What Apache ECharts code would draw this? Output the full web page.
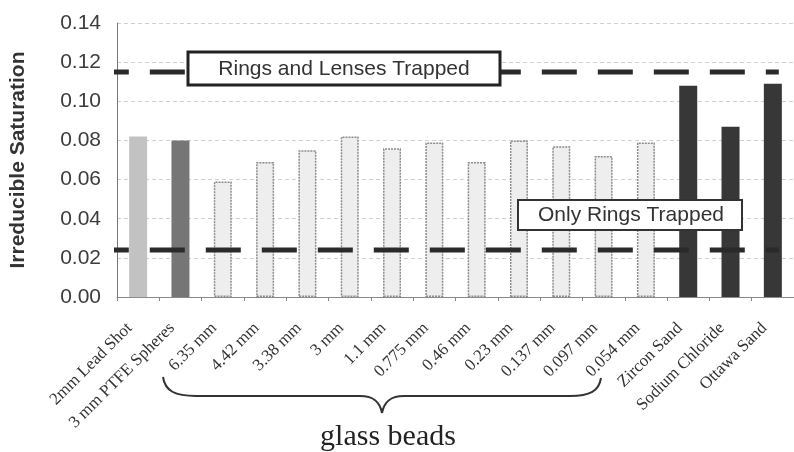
<!DOCTYPE html>
<html>
<head>
<meta charset="utf-8">
<title>Irreducible Saturation</title>
<script src="https://cdn.jsdelivr.net/npm/echarts@6/dist/echarts.min.js"></script>
<style>
  html, body { margin: 0; padding: 0; background: #ffffff; }
  #chart { width: 794px; height: 452px; }
</style>
</head>
<body>
<div id="chart"></div>
<script>
// Porous media tested, in plotting order
const categories = [
  '2mm Lead Shot', '3 mm PTFE Spheres',
  '6.35 mm', '4.42 mm', '3.38 mm', '3 mm', '1.1 mm', '0.775 mm',
  '0.46 mm', '0.23 mm', '0.137 mm', '0.097 mm', '0.054 mm',
  'Zircon Sand', 'Sodium Chloride', 'Ottawa Sand'
];

// Measured irreducible saturation for each medium
const saturation = [
  0.082, 0.080,
  0.059, 0.069, 0.075, 0.082, 0.076, 0.079,
  0.069, 0.080, 0.077, 0.072, 0.079,
  0.108, 0.087, 0.109
];

// Material kind of each medium (selects the bar fill)
const materialKind = [
  'lead', 'ptfe',
  'glass', 'glass', 'glass', 'glass', 'glass', 'glass',
  'glass', 'glass', 'glass', 'glass', 'glass',
  'grain', 'grain', 'grain'
];

// Trapping thresholds
const ringsAndLensesLevel = 0.115;
const ringsOnlyLevel = 0.024;

const yTickStep = 0.02;
const yMax = 0.14;

// Bar fills by material kind
const kindStyle = {
  lead:  { color: '#c2c2c2' },
  ptfe:  { color: '#767676' },
  glass: { color: '#eeeeee', borderColor: '#8c8c8c', borderWidth: 1.5, borderType: [2, 1] },
  grain: { color: '#373737' }
};

const bars = saturation.map((v, i) => ({ value: v, itemStyle: kindStyle[materialKind[i]] }));

// Threshold lines run on a hidden value axis measured in category widths
const lineSpan = [-0.17, 15.64];
const thresholdLine = (level) => ({
  type: 'line',
  xAxisIndex: 1,
  yAxisIndex: 0,
  data: [[lineSpan[0], level], [lineSpan[1], level]],
  symbol: 'none',
  clip: false,
  silent: true,
  z: 5,
  lineStyle: { color: '#2a2a2a', width: 5, type: [35, 21], dashOffset: 16, cap: 'butt' }
});

// Curly brace under the glass bead sizes
const braceStyle = { fill: 'none', stroke: '#333333', lineWidth: 2 };
const braceParts = [
  { type: 'bezierCurve', shape: { x1: 163, y1: 377, cpx1: 165, cpy1: 391, cpx2: 175, cpy2: 396, x2: 196, y2: 396 } },
  { type: 'line', shape: { x1: 196, y1: 396, x2: 360, y2: 396 } },
  { type: 'bezierCurve', shape: { x1: 360, y1: 396, cpx1: 374, cpy1: 396, cpx2: 380, cpy2: 402, x2: 382, y2: 413 } },
  { type: 'bezierCurve', shape: { x1: 382, y1: 413, cpx1: 384, cpy1: 402, cpx2: 390, cpy2: 396, x2: 404, y2: 396 } },
  { type: 'line', shape: { x1: 404, y1: 396, x2: 570, y2: 396 } },
  { type: 'bezierCurve', shape: { x1: 570, y1: 396, cpx1: 590, cpy1: 396, cpx2: 599, cpy2: 391, x2: 601, y2: 378 } }
].map((p) => Object.assign(p, { z: 100, style: braceStyle }));

// Annotation boxes for the two trapping regimes
const annotations = [
  {
    type: 'rect', z: 100,
    shape: { x: 188, y: 52, width: 312, height: 33 },
    style: { fill: '#ffffff', stroke: '#222222', lineWidth: 3 }
  },
  {
    type: 'text', z: 101,
    x: 344, y: 69,
    style: {
      text: 'Rings and Lenses Trapped',
      fontFamily: 'Liberation Sans', fontSize: 21, fill: '#333333',
      textAlign: 'center', textVerticalAlign: 'middle'
    }
  },
  {
    type: 'rect', z: 100,
    shape: { x: 518, y: 200, width: 224, height: 30 },
    style: { fill: '#ffffff', stroke: '#333333', lineWidth: 2 }
  },
  {
    type: 'text', z: 101,
    x: 631, y: 215,
    style: {
      text: 'Only Rings Trapped',
      fontFamily: 'Liberation Sans', fontSize: 21, fill: '#333333',
      textAlign: 'center', textVerticalAlign: 'middle'
    }
  },
  {
    type: 'text', z: 101,
    x: 388, y: 437,
    style: {
      text: 'glass beads',
      fontFamily: 'Liberation Serif', fontSize: 30, fill: '#222222',
      textAlign: 'center', textVerticalAlign: 'middle'
    }
  }
];

const chart = echarts.init(document.getElementById('chart'), null, { renderer: 'canvas' });

chart.setOption({
  animation: false,
  backgroundColor: '#ffffff',
  grid: { left: 115, right: -6, top: 23, bottom: 155, containLabel: false },
  xAxis: [
    {
      type: 'category',
      data: categories,
      boundaryGap: true,
      axisLine: { show: true, lineStyle: { color: '#8a8a8a', width: 1 } },
      axisTick: { show: true, length: 4, lineStyle: { color: '#8a8a8a' } },
      axisLabel: {
        rotate: 45,
        margin: 20,
        padding: [0, 12, 0, 0],
        interval: 0,
        color: '#333333',
        fontFamily: 'Liberation Serif',
        fontSize: 17
      },
      splitLine: { show: false }
    },
    { type: 'value', min: 0, max: 16, show: false }
  ],
  yAxis: {
    type: 'value',
    min: 0,
    max: yMax,
    interval: yTickStep,
    name: 'Irreducible Saturation',
    nameLocation: 'middle',
    nameRotate: 90,
    nameGap: 88,
    nameTextStyle: { fontFamily: 'Liberation Sans', fontWeight: 'bold', fontSize: 21, color: '#333333' },
    axisLine: { show: true, lineStyle: { color: '#777777', width: 1 } },
    axisTick: { show: false },
    axisLabel: {
      margin: 16,
      color: '#3c3c3c',
      fontFamily: 'Liberation Sans',
      fontSize: 21,
      formatter: (v) => v.toFixed(2)
    },
    splitLine: { show: true, lineStyle: { color: '#d0d0d0', width: 1, type: [4, 3] } }
  },
  series: [
    {
      type: 'bar',
      data: bars,
      barWidth: 18,
      z: 2
    },
    thresholdLine(ringsAndLensesLevel),
    thresholdLine(ringsOnlyLevel)
  ],
  graphic: { elements: annotations.slice(0, 4).concat(braceParts, annotations.slice(4)) }
});
</script>
</body>
</html>
